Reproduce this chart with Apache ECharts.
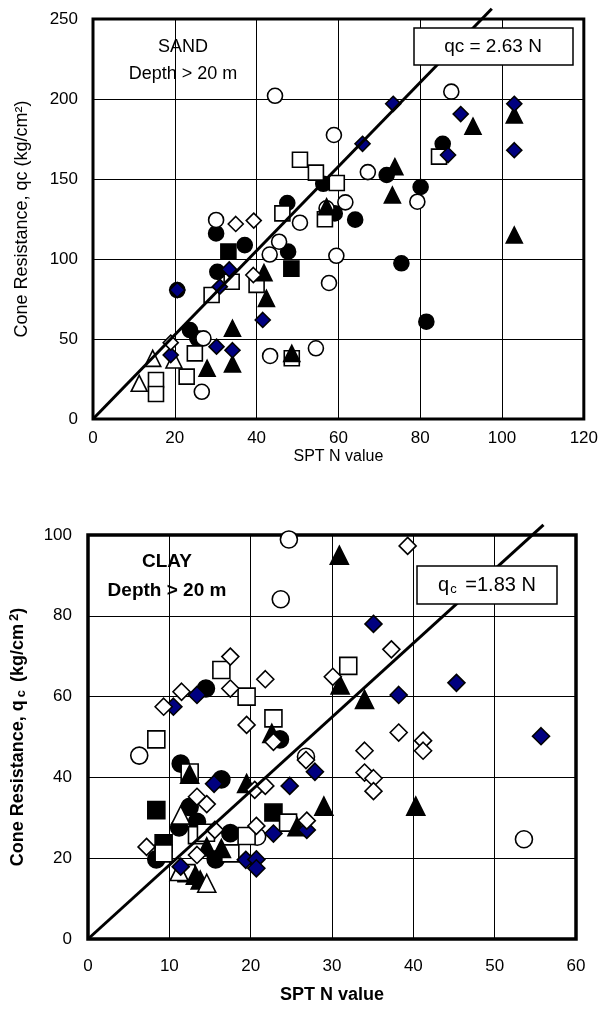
<!DOCTYPE html>
<html><head><meta charset="utf-8">
<script src="https://cdn.jsdelivr.net/npm/echarts@6/dist/echarts.min.js"></script>
<style>html,body{margin:0;padding:0;background:#fff}#c{width:601px;height:1016px}</style>
</head><body><div id="c"></div>
<script>
// ---------- SAND (depth > 20 m) ----------
const sandFilledCircle = [[85.5,172],[71.8,152.5],[80.1,145],[64.1,124.6],[56.3,147],[47.5,135],[59.1,128.5],[30.1,116],[37.1,108.7],[47.7,104.6],[30.4,92],[75.4,97.3],[81.5,60.8],[20.6,80.6],[23.7,55.6],[25.5,50.4]];
const sandOpenCircle = [[44.5,202],[87.6,204.6],[58.9,177.5],[67.2,154.3],[79.3,135.8],[61.7,135.4],[50.6,122.7],[57.1,131.7],[30.1,124.4],[45.5,110.8],[43.2,102.8],[59.5,102],[57.7,85],[27,50.4],[26.6,17],[43.3,39.4],[54.5,44.2]];
const sandFilledSquare = [[33.1,104.6],[48.5,94]];
const sandOpenSquare = [[84.6,164],[59.6,147.5],[50.6,162],[54.5,154],[46.3,128.5],[56.7,124.8],[33.9,85.8],[29,77.5],[40,83.8],[24.9,41],[22.9,26.5],[15.4,24.4],[15.4,15.6],[48.6,38]];
const sandFilledTriangle = [[92.9,183],[103,190],[73.8,157.7],[73.2,140],[103,115],[57.1,132.7],[41.8,91.5],[42.4,75.4],[34.1,56.7],[27.9,31.7],[34.1,34.4],[48.6,41]];
const sandOpenTriangle = [[14.6,37.9],[19.8,36.9],[11.3,22.3]];
const sandOpenDiamond = [[34.9,121.9],[39.3,124],[39.2,90],[19,47.7]];
const sandNavyDiamond = [[65.9,172],[73.4,197],[89.9,190.6],[103,197],[86.8,165],[103,168],[33.3,93.5],[31,82.7],[20.6,80.6],[41.5,61.9],[19,40],[30.2,45.2],[34.1,43]];
const sandFitLine = [[0,0],[97.5,256.4]];
const sandXTicks = [0,20,40,60,80,100,120];
const sandYTicks = [0,50,100,150,200,250];

// ---------- CLAY (depth > 20 m) ----------
const clayFilledCircle = [[14.5,62],[23.6,49.4],[11.4,43.4],[16.4,39.5],[12.5,32.7],[13.4,29],[11.2,27.6],[17.5,26.2],[8.4,19.7],[15.7,19.7]];
const clayOpenCircle = [[24.7,98.9],[23.7,84.1],[6.3,45.4],[26.8,45.1],[53.6,24.7],[20.8,25.3]];
const clayFilledSquare = [[8.4,31.9],[22.8,31.3],[9.3,23.7]];
const clayOpenSquare = [[16.4,66.6],[19.5,60],[32,67.6],[22.8,54.6],[8.4,49.4],[12.5,41.2],[13.4,25.7],[14.5,26.3],[19.5,25.5],[24.6,28.8],[9.3,21.2],[17.5,21.2],[12.1,16.3]];
const clayFilledTriangle = [[30.9,95],[31,62.9],[34,59.3],[22.6,50.9],[12.5,40.8],[19.5,38.5],[40.3,32.9],[29,32.9],[25.7,27.8],[14.6,22.8],[16.4,22.4],[13.2,15.8],[13.8,14.6]];
const clayOpenTriangle = [[11.4,30.7],[11.2,16.7],[14.6,13.8]];
const clayOpenDiamond = [[17.5,69.9],[21.8,64.3],[17.5,62],[11.5,61.2],[39.3,97.3],[37.3,71.7],[30.1,64.9],[9.3,57.5],[19.5,53],[22.8,48.8],[26.8,44.3],[38.2,51.1],[41.2,49.1],[41.2,46.6],[34,46.6],[34,41.2],[35.1,39.8],[35.1,36.6],[20.5,36.9],[21.8,37.9],[13.4,35.2],[14.6,33.4],[15.6,27],[20.7,28],[26.9,29.3],[7.2,22.8],[13.4,20.8]];
const clayNavyDiamond = [[13.4,60.4],[10.5,57.5],[35.1,78],[38.2,60.4],[45.3,63.4],[55.7,50.2],[27.9,41.4],[15.5,38.4],[24.8,37.9],[26.9,27],[22.8,26.1],[19.4,19.6],[20.7,19.7],[20.7,17.5],[11.4,17.9]];
const clayFitLine = [[0,0],[56,102.5]];
const clayXTicks = [0,10,20,30,40,50,60];
const clayYTicks = [0,20,40,60,80,100];

const FONT = 'Liberation Sans, Arial, sans-serif';
const NAVY = '#000080';

function sc(name, data, gi, symbol, size, fill, z) {
  return {
    type: 'scatter', name, data, xAxisIndex: gi, yAxisIndex: gi,
    symbol, symbolSize: size, z: z, silent: true, animation: false,
    itemStyle: { color: fill, borderColor: '#000', borderWidth: 1.6, opacity: 1 }
  };
}
function fit(data, gi) {
  return { type: 'line', data, xAxisIndex: gi, yAxisIndex: gi, symbol: 'none', clip: false,
    lineStyle: { color: '#000', width: 3 }, z: 20, silent: true, animation: false };
}
function mk(gi, s) {
  const D = gi === 0 ? {
    fc: sandFilledCircle, oc: sandOpenCircle, fs: sandFilledSquare, os: sandOpenSquare,
    ft: sandFilledTriangle, ot: sandOpenTriangle, od: sandOpenDiamond, nd: sandNavyDiamond, line: sandFitLine
  } : {
    fc: clayFilledCircle, oc: clayOpenCircle, fs: clayFilledSquare, os: clayOpenSquare,
    ft: clayFilledTriangle, ot: clayOpenTriangle, od: clayOpenDiamond, nd: clayNavyDiamond, line: clayFitLine
  };
  return [
    sc('fc', D.fc, gi, 'circle', s, '#000', 2),
    sc('oc', D.oc, gi, 'circle', s, '#fff', 3),
    sc('fs', D.fs, gi, 'rect', s, '#000', 4),
    sc('os', D.os, gi, 'rect', s, '#fff', 5),
    sc('ft', D.ft, gi, 'triangle', s + 1, '#000', 6),
    sc('ot', D.ot, gi, 'triangle', s + 1, '#fff', 7),
    sc('nd', D.nd, gi, 'diamond', s, NAVY, 8),
    sc('od', D.od, gi, 'diamond', s, '#fff', 9),
    fit(D.line, gi)
  ];
}

const axisLbl = { color: '#000', fontFamily: FONT, fontSize: 17 };
const split = { show: true, lineStyle: { color: '#000', width: 1 } };

const option = {
  backgroundColor: '#fff',
  animation: false,
  grid: [
    { left: 93, top: 19, width: 491, height: 400, show: true, borderColor: '#000', borderWidth: 3, backgroundColor: 'transparent' },
    { left: 88, top: 535, width: 488, height: 404, show: true, borderColor: '#000', borderWidth: 3.5, backgroundColor: 'transparent' }
  ],
  xAxis: [
    { gridIndex: 0, type: 'value', min: sandXTicks[0], max: sandXTicks[sandXTicks.length-1], interval: 20,
      axisLine: { show: false }, axisTick: { show: false }, splitLine: split,
      axisLabel: Object.assign({ margin: 11 }, axisLbl),
      name: 'SPT N value', nameLocation: 'middle', nameGap: 30,
      nameTextStyle: { color: '#000', fontFamily: FONT, fontSize: 16 } },
    { gridIndex: 1, type: 'value', min: clayXTicks[0], max: clayXTicks[clayXTicks.length-1], interval: 10,
      axisLine: { show: false }, axisTick: { show: false }, splitLine: split,
      axisLabel: Object.assign({ margin: 19 }, axisLbl),
      name: 'SPT N value', nameLocation: 'middle', nameGap: 47,
      nameTextStyle: { color: '#000', fontFamily: FONT, fontSize: 18, fontWeight: 'bold' } }
  ],
  yAxis: [
    { gridIndex: 0, type: 'value', min: sandYTicks[0], max: sandYTicks[sandYTicks.length-1], interval: 50,
      axisLine: { show: false }, axisTick: { show: false }, splitLine: split,
      axisLabel: Object.assign({ margin: 15 }, axisLbl),
      name: 'Cone Resistance, qc (kg/cm²)', nameLocation: 'middle', nameGap: 62, nameRotate: 90,
      nameTextStyle: { color: '#000', fontFamily: FONT, fontSize: 18 } },
    { gridIndex: 1, type: 'value', min: clayYTicks[0], max: clayYTicks[clayYTicks.length-1], interval: 20,
      axisLine: { show: false }, axisTick: { show: false }, splitLine: split,
      axisLabel: Object.assign({ margin: 16 }, axisLbl),
      name: '{b|Cone Resistance, q}{s|c}{b| (kg/cm}{p|2}{b|)}', nameLocation: 'middle', nameGap: 60, nameRotate: 90,
      nameTextStyle: { color: '#000', fontFamily: FONT, fontSize: 18, fontWeight: 'bold',
        rich: {
          b: { fontFamily: FONT, fontSize: 18, fontWeight: 'bold', color: '#000' },
          s: { fontFamily: FONT, fontSize: 13, fontWeight: 'bold', color: '#000', verticalAlign: 'bottom', padding: [7,3,0,3] },
          p: { fontFamily: FONT, fontSize: 13, fontWeight: 'bold', color: '#000', verticalAlign: 'top', padding: [0,0,7,3] }
        } } }
  ],
  series: [].concat(mk(0, 15), mk(1, 17)),
  graphic: [
    { type: 'text', x: 183, y: 47, z: 50, silent: true,
      style: { text: 'SAND', fill: '#000', font: '18px ' + FONT, align: 'center', verticalAlign: 'middle' } },
    { type: 'text', x: 183, y: 74, z: 50, silent: true,
      style: { text: 'Depth > 20 m', fill: '#000', font: '18px ' + FONT, align: 'center', verticalAlign: 'middle' } },
    { type: 'rect', shape: { x: 414, y: 28, width: 159, height: 37 }, z: 50,
      style: { fill: '#fff', stroke: '#000', lineWidth: 1.5 }, silent: true },
    { type: 'text', x: 493, y: 46.5, z: 51, silent: true,
      style: { text: 'qc = 2.63 N', fill: '#000', font: '19px ' + FONT, align: 'center', verticalAlign: 'middle' } },
    { type: 'text', x: 167, y: 562, z: 50, silent: true,
      style: { text: 'CLAY', fill: '#000', font: 'bold 19px ' + FONT, align: 'center', verticalAlign: 'middle' } },
    { type: 'text', x: 167, y: 591, z: 50, silent: true,
      style: { text: 'Depth > 20 m', fill: '#000', font: 'bold 19px ' + FONT, align: 'center', verticalAlign: 'middle' } },
    { type: 'rect', shape: { x: 417, y: 566, width: 140, height: 38 }, z: 50,
      style: { fill: '#fff', stroke: '#000', lineWidth: 1.5 }, silent: true },
    { type: 'text', x: 487, y: 585, z: 51, silent: true,
      style: { text: '{a|q}{s|c}{a| =1.83 N}', align: 'center', verticalAlign: 'middle',
        rich: { a: { fontFamily: FONT, fontSize: 20, fill: '#000', color: '#000' },
                s: { fontFamily: FONT, fontSize: 13, fill: '#000', color: '#000', verticalAlign: 'bottom', padding: [8,3,0,1] } } } }
  ]
};
const chart = echarts.init(document.getElementById('c'), null, { renderer: 'canvas' });
chart.setOption(option);
</script></body></html>
